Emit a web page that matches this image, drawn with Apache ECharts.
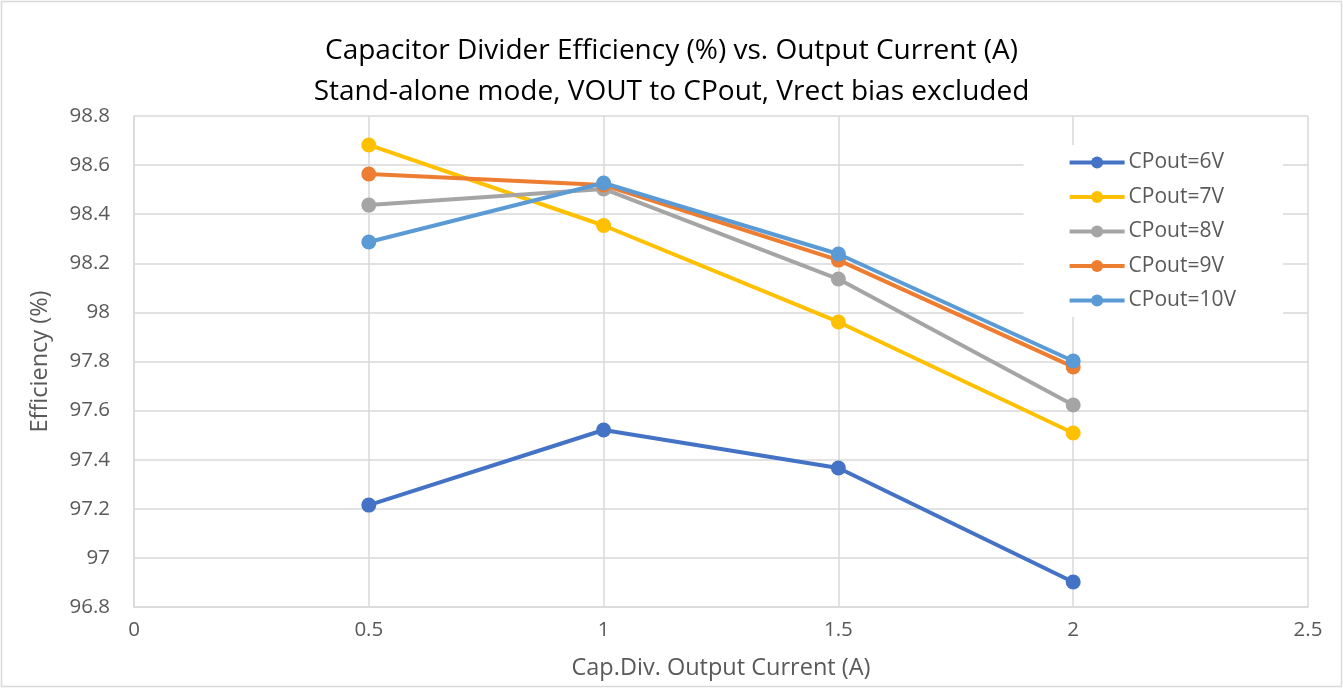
<!DOCTYPE html>
<html>
<head>
<meta charset="utf-8">
<script src="https://cdn.jsdelivr.net/npm/echarts@6/dist/echarts.min.js"></script>
<style>
  html, body { margin: 0; padding: 0; background: #fff; }
  #chart { width: 1343px; height: 688px; }
</style>
</head>
<body>
<div id="chart"></div>
<script>
// x values (output current, A)
var currents = [0.5, 1, 1.5, 2]
var seriesNames = ['CPout=6V', 'CPout=7V', 'CPout=8V', 'CPout=9V', 'CPout=10V']
// efficiency (%) per series
var eff6V = [97.215, 97.521, 97.366, 96.902]
var eff7V = [98.682, 98.354, 97.961, 97.509]
var eff8V = [98.437, 98.503, 98.136, 97.623]
var eff9V = [98.564, 98.519, 98.213, 97.778]
var eff10V = [98.287, 98.527, 98.238, 97.802]
var colors = ['#4472C4', '#FFC000', '#A5A5A5', '#ED7D31', '#5B9BD5']

var font = '"Open Sans", sans-serif'
var textColor = '#595959'

function pairs(ys) {
    var out = []
    for (var i = 0; i < currents.length; i++) {
        out.push([currents[i], ys[i]])
    }
    return out
}

var allData = [eff6V, eff7V, eff8V, eff9V, eff10V]
var series = allData.map(function (ys, i) {
    return {
        name: seriesNames[i],
        type: 'line',
        data: pairs(ys),
        symbol: 'circle',
        symbolSize: 15,
        lineStyle: { width: 4, color: colors[i] },
        itemStyle: { color: colors[i] },
        emphasis: { disabled: true },
        z: 2 + i
    }
})

var myChart = echarts.init(document.getElementById('chart'))
var option = {
    backgroundColor: '#fff',
    animation: false,
    title: {
        text: 'Capacitor Divider Efficiency (%) vs. Output Current (A)\nStand-alone mode, VOUT to CPout, Vrect bias excluded',
        left: 'center',
        top: 26,
        textStyle: {
            fontFamily: font,
            fontSize: 28,
            fontWeight: 'normal',
            color: '#000',
            lineHeight: 41
        }
    },
    legend: {
        orient: 'vertical',
        right: 60,
        top: 145,
        backgroundColor: '#fff',
        padding: [7, 47, 6, 44],
        itemGap: 13.5,
        itemWidth: 55,
        itemHeight: 15,
        lineStyle: { width: 4 },
        data: seriesNames,
        textStyle: { fontFamily: font, fontSize: 21, color: textColor, lineHeight: 20, padding: [0, 0, 0, -1] }
    },
    grid: { left: 134, right: 35, top: 116, bottom: 81 },
    xAxis: {
        type: 'value',
        min: 0,
        max: 2.5,
        interval: 0.5,
        name: 'Cap.Div. Output Current (A)',
        nameLocation: 'middle',
        nameGap: 49,
        nameTextStyle: { fontFamily: font, fontSize: 23.5, color: textColor },
        axisLine: { show: true, lineStyle: { color: '#d9d9d9', width: 1.5 } },
        axisTick: { show: false },
        axisLabel: { fontFamily: font, fontSize: 20.5, color: textColor, margin: 13 },
        splitLine: { show: true, lineStyle: { color: '#d9d9d9', width: 1.5 } }
    },
    yAxis: {
        type: 'value',
        min: 96.8,
        max: 98.8,
        interval: 0.2,
        name: 'Efficiency (%)',
        nameLocation: 'middle',
        nameGap: 82,
        nameTextStyle: { fontFamily: font, fontSize: 23.5, color: textColor },
        axisLine: { show: true, lineStyle: { color: '#d9d9d9', width: 1.5 } },
        axisTick: { show: false },
        axisLabel: {
            fontFamily: font, fontSize: 20.5, color: textColor, margin: 24,
            formatter: function (v) { return String(Math.round(v * 10) / 10) }
        },
        splitLine: { show: true, lineStyle: { color: '#d9d9d9', width: 1.5 } }
    },
    graphic: [{
        type: 'rect',
        shape: { x: 1.5, y: 1.5, width: 1340, height: 685 },
        style: { fill: 'none', stroke: '#d9d9d9', lineWidth: 1.5 },
        silent: true
    }],
    series: series
}
myChart.setOption(option)
</script>
</body>
</html>
